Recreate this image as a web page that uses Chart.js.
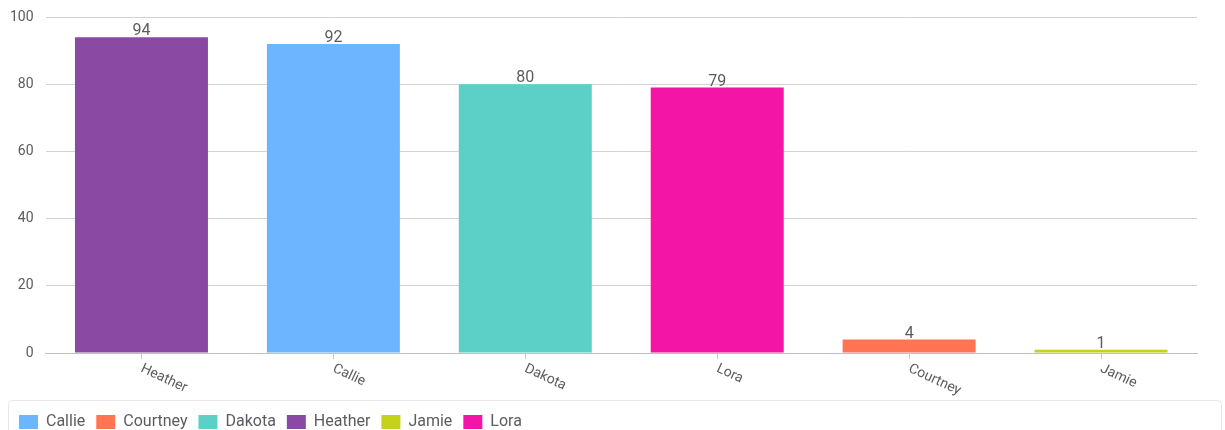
<!DOCTYPE html>
<html>
<head>
<meta charset="utf-8">
<script src="https://cdn.jsdelivr.net/npm/chart.js@4/dist/chart.umd.min.js"></script>
<style>
  html, body { margin: 0; padding: 0; width: 1225px; height: 430px; overflow: hidden; background: #fff; }
  #wrap { position: relative; width: 1225px; height: 440px; }
</style>
</head>
<body>
<div id="wrap"><canvas id="chart" width="1225" height="440"></canvas></div>
<script>
// Scores per person, in display order
const categories = ['Heather', 'Callie', 'Dakota', 'Lora', 'Courtney', 'Jamie'];
const values = [94, 92, 80, 79, 4, 1];
const barColors = ['#8a4aa3', '#6db6ff', '#5ccfc7', '#f316a6', '#ff7452', '#c4d21a'];
const yTicks = [0, 20, 40, 60, 80, 100];

const FONT = 'Roboto, "DejaVu Sans", sans-serif';
const TEXT = '#5b5b62';

// Legend entries are listed alphabetically
const legendOrder = categories.map((c, i) => i).sort((a, b) => categories[a].localeCompare(categories[b]));

// Value labels above each bar
const valueLabels = {
  id: 'valueLabels',
  afterDatasetsDraw(chart) {
    const { ctx } = chart;
    const meta = chart.getDatasetMeta(0);
    ctx.save();
    ctx.font = '16px ' + FONT;
    ctx.fillStyle = TEXT;
    ctx.textAlign = 'center';
    ctx.textBaseline = 'bottom';
    meta.data.forEach((bar, i) => {
      ctx.fillText(String(values[i]), bar.x, bar.y + 2);
    });
    ctx.restore();
  }
};

// Slanted category labels under the x axis
const slantedLabels = {
  id: 'slantedLabels',
  afterDraw(chart) {
    const { ctx } = chart;
    const x = chart.scales.x;
    ctx.save();
    ctx.font = '14px ' + FONT;
    ctx.fillStyle = TEXT;
    ctx.textAlign = 'left';
    ctx.textBaseline = 'middle';
    categories.forEach((c, i) => {
      const px = x.getPixelForTick(i);
      ctx.save();
      ctx.translate(px, x.top + 15);
      ctx.rotate(25 * Math.PI / 180);
      ctx.fillText(c, 0, 0);
      ctx.restore();
    });
    ctx.restore();
  }
};

// Rounded frame around the legend
const legendFrame = {
  id: 'legendFrame',
  beforeDraw(chart) {
    const lg = chart.legend;
    if (!lg) return;
    const { ctx } = chart;
    ctx.save();
    ctx.strokeStyle = '#e6e6e8';
    ctx.lineWidth = 1;
    ctx.beginPath();
    ctx.roundRect(8.5, lg.top - 2.5, chart.width - 12, 60, 4);
    ctx.stroke();
    ctx.restore();
  }
};

new Chart(document.getElementById('chart'), {
  type: 'bar',
  data: {
    labels: categories,
    datasets: [{
      data: values,
      backgroundColor: barColors,
      borderWidth: 0,
      categoryPercentage: 1,
      barPercentage: 0.693
    }]
  },
  options: {
    responsive: false,
    animation: false,
    layout: { padding: { left: 8, right: 28, top: 17, bottom: 0 } },
    plugins: {
      tooltip: { enabled: false },
      legend: {
        position: 'bottom',
        align: 'start',
        labels: {
          font: { family: FONT, size: 16 },
          color: TEXT,
          boxWidth: 19,
          boxHeight: 14,
          useBorderRadius: true,
          borderRadius: 5,
          padding: 11,
          generateLabels() {
            return legendOrder.map(i => ({
              text: categories[i],
              fillStyle: barColors[i],
              strokeStyle: barColors[i],
              fontColor: TEXT,
              lineWidth: 0,
              hidden: false,
              index: i
            }));
          }
        }
      }
    },
    scales: {
      x: {
        grid: {
          display: true,
          drawOnChartArea: false,
          drawTicks: true,
          tickLength: 6,
          offset: false,
          color: '#c8c8c8'
        },
        border: { display: true, color: '#c0c0c0' },
        ticks: { display: false },
        afterFit(scale) { scale.height = 50; }
      },
      y: {
        min: 0,
        max: 100,
        afterBuildTicks(scale) { scale.ticks = yTicks.map(v => ({ value: v })); },
        grid: { color: '#d2d2d2', drawTicks: false },
        border: { display: false },
        ticks: {
          padding: 12,
          color: TEXT,
          font: { family: FONT, size: 14 }
        },
        afterFit(scale) {
          scale.width = 37.5;
          scale.paddingTop = 8;
          scale.paddingBottom = 0;
        }
      }
    }
  },
  plugins: [valueLabels, slantedLabels, legendFrame]
});
</script>
</body>
</html>
